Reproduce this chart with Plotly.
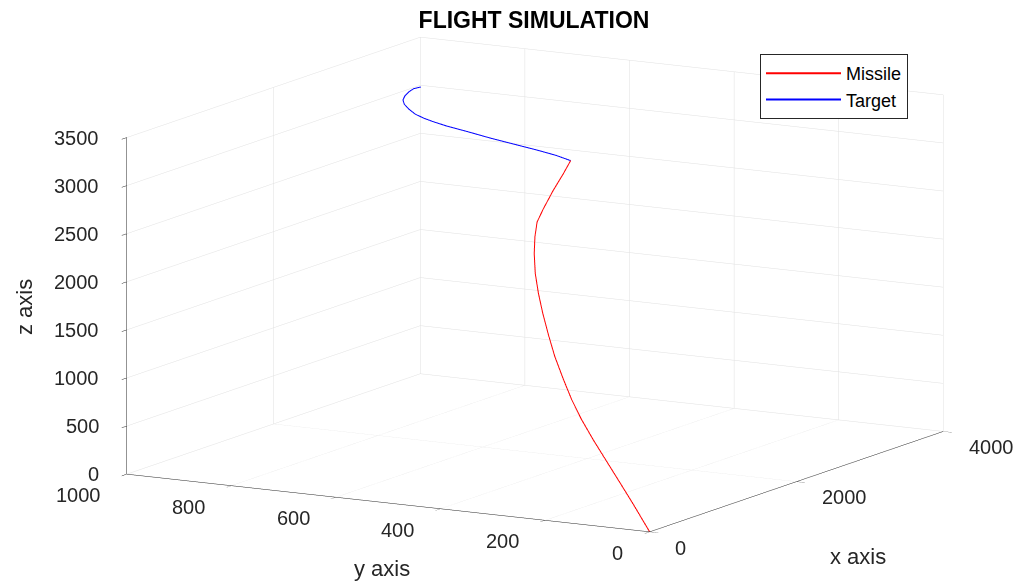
import plotly.graph_objects as go
import math

# Missile trajectory
missile_x = [0, 160, 284, 407, 531, 645, 761, 878, 1015, 1143, 1272, 1391, 1512, 1633, 1735, 1829, 1915, 2034, 2143, 2229]
missile_y = [0, 54, 97, 140, 183, 221, 256, 288, 324, 354, 383, 408, 431, 450, 463, 472, 472, 470, 466, 464]
missile_z = [0, 215, 382, 548, 714, 869, 1024, 1181, 1366, 1538, 1712, 1873, 2035, 2198, 2336, 2461, 2577, 2737, 2884, 3000]

# Target trajectory
target_x = [3950, 3873, 3766, 3625, 3500, 3375, 3240, 3112, 3020, 2942, 2858, 2762, 2642, 2539, 2437, 2340, 2229]
target_y = [992, 995, 989, 977, 963, 943, 915, 885, 856, 826, 789, 737, 676, 617, 558, 508, 464]
target_z = [3000, 3000, 3000, 3000, 3000, 3000, 3000, 3000, 3000, 3000, 3000, 3000, 3000, 3000, 3000, 3000, 3000]

x_ticks = [0, 2000, 4000]
y_ticks = [0, 200, 400, 600, 800, 1000]
z_ticks = [0, 500, 1000, 1500, 2000, 2500, 3000, 3500]
x_range = [0, 4000]
y_range = [0, 1000]
z_range = [0, 3500]

FONT = "Liberation Sans"
TXT = "#262626"
TICKSIZE = 20
W, H = 1029, 584
OFF = 8  # page body margin

fig = go.Figure()
fig.add_trace(go.Scatter3d(x=missile_x, y=missile_y, z=missile_z, mode="lines",
                           line=dict(color="#ff0000", width=2), name="Missile"))
fig.add_trace(go.Scatter3d(x=target_x, y=target_y, z=target_z, mode="lines",
                           line=dict(color="#0000ff", width=2), name="Target"))

def ax(rng, ticks):
    return dict(range=rng, tickvals=ticks, showticklabels=False,
                showbackground=False, showgrid=True, gridcolor="#e0e0e0", gridwidth=1,
                showline=True, linecolor=TXT, linewidth=1, zeroline=False,
                ticks="outside", ticklen=10, tickcolor=TXT,
                title=dict(text=""), showspikes=False, autorange=False)

# tick labels as horizontal scene annotations anchored at data coordinates
tick_ann = []
for v in z_ticks:
    tick_ann.append(dict(x=x_range[0], y=y_range[1], z=min(v, z_range[1] * 0.9999), text=str(v), showarrow=False,
                         xanchor="right", yanchor="middle", xshift=-26, yshift=0,
                         font=dict(family=FONT, size=TICKSIZE, color=TXT)))
for v in y_ticks:
    tick_ann.append(dict(x=x_range[0], y=v, z=z_range[0], text=str(v), showarrow=False,
                         xanchor="right", yanchor="middle", xshift=-24, yshift=-21,
                         font=dict(family=FONT, size=TICKSIZE, color=TXT)))
for v in x_ticks:
    tick_ann.append(dict(x=v, y=y_range[0], z=z_range[0], text=str(v), showarrow=False,
                         xanchor="left", yanchor="middle", xshift=24, yshift=-16,
                         font=dict(family=FONT, size=TICKSIZE, color=TXT)))

# camera direction (azimuth/elevation of MATLAB-like view)
az = math.radians(209.6)
el = math.radians(11.2)
r = 3.0
eye = dict(x=r * math.cos(el) * math.cos(az), y=r * math.cos(el) * math.sin(az), z=r * math.sin(el))
k = 2.15

def px(x):
    return (x - OFF) / W

def py(y):
    return 1 - (y - OFF) / H

fig.update_layout(
    width=W, height=H,
    margin=dict(l=0, r=0, t=0, b=0),
    paper_bgcolor="white",
    font=dict(family=FONT, color=TXT),
    title=dict(text="<b>FLIGHT SIMULATION</b>", x=px(534), xanchor="center", y=py(20), yanchor="middle",
               font=dict(family=FONT, size=23, color="black")),
    scene=dict(
        domain=dict(x=[0.032, 0.992], y=[0.0534, 1.0]),
        xaxis=ax(x_range, x_ticks),
        yaxis=ax(y_range, y_ticks),
        zaxis=ax(z_range, z_ticks),
        aspectmode="manual",
        aspectratio=dict(x=1.0 * k, y=1.0117 * k, z=0.5772 * k),
        camera=dict(eye=eye, up=dict(x=0, y=0, z=1), center=dict(x=0, y=0, z=0),
                    projection=dict(type="orthographic")),
        annotations=tick_ann,
    ),
    legend=dict(x=px(760), y=py(54), xanchor="left", yanchor="top",
                bgcolor="white", bordercolor="#262626", borderwidth=1,
                font=dict(family=FONT, size=18, color="black"), itemwidth=75),
    showlegend=True,
    annotations=[
        dict(text="x axis", x=px(858), y=py(556), xref="paper", yref="paper",
             xanchor="center", yanchor="middle",
             showarrow=False, font=dict(family=FONT, size=22, color=TXT)),
        dict(text="y axis", x=px(382), y=py(568), xref="paper", yref="paper",
             xanchor="center", yanchor="middle",
             showarrow=False, font=dict(family=FONT, size=22, color=TXT)),
        dict(text="z axis", x=px(24), y=py(307), xref="paper", yref="paper",
             xanchor="center", yanchor="middle",
             showarrow=False, textangle=-90, font=dict(family=FONT, size=22, color=TXT)),
    ],
)

fig.write_html("out.html")
